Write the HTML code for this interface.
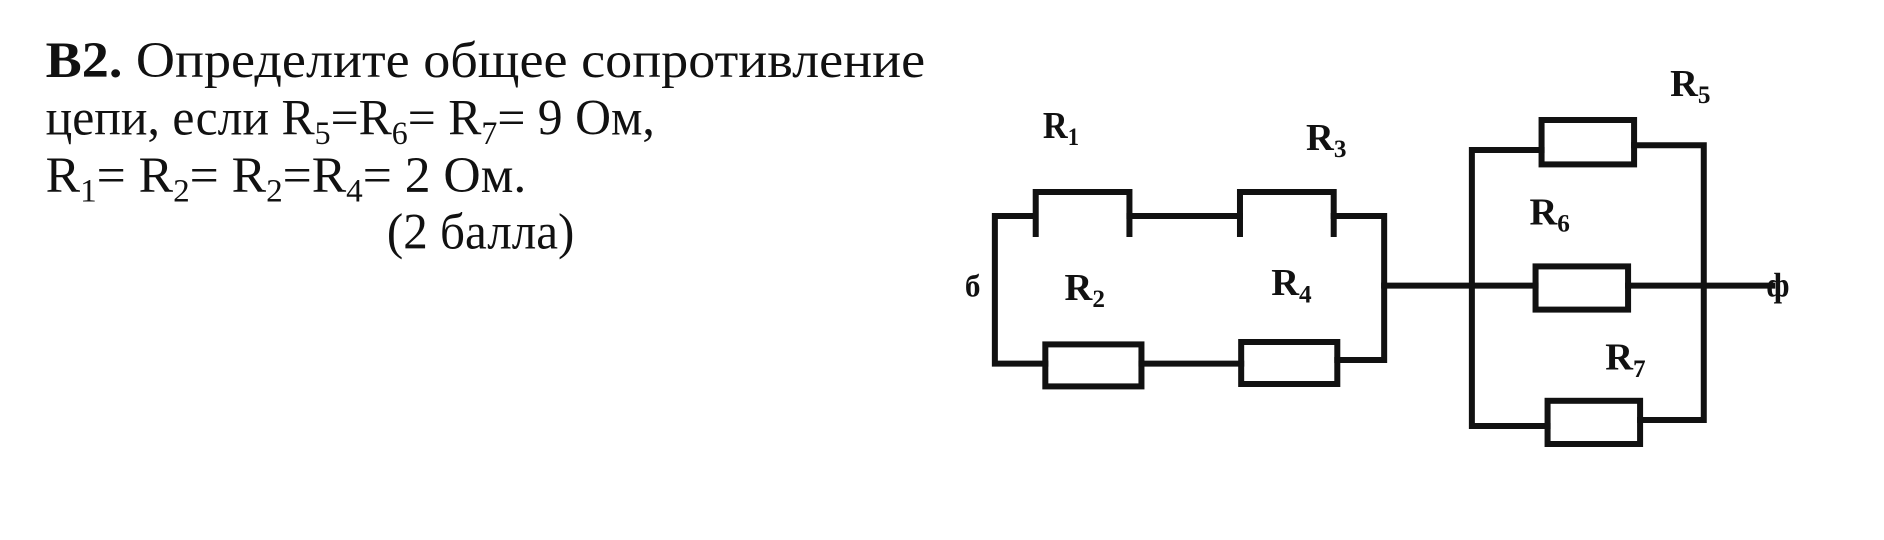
<!DOCTYPE html>
<html><head><meta charset="utf-8"><style>
html,body{margin:0;padding:0;background:#fff;}
svg{display:block;}
text{font-family:"Liberation Serif",serif;fill:#111;}
</style></head><body>
<svg width="1884" height="540" viewBox="0 0 1568 450" preserveAspectRatio="none">
<g font-size="42">
<text x="38" y="64" textLength="732" lengthAdjust="spacingAndGlyphs"><tspan font-weight="bold">B2.</tspan> Определите   общее   сопротивление</text>
<text x="38" y="112" textLength="507" lengthAdjust="spacingAndGlyphs">цепи, если R<tspan font-size="27" dy="8">5</tspan><tspan dy="-8">=R</tspan><tspan font-size="27" dy="8">6</tspan><tspan dy="-8">= R</tspan><tspan font-size="27" dy="8">7</tspan><tspan dy="-8">= 9 Ом,</tspan></text>
<text x="38" y="160" textLength="400" lengthAdjust="spacingAndGlyphs">R<tspan font-size="27" dy="8">1</tspan><tspan dy="-8">= R</tspan><tspan font-size="27" dy="8">2</tspan><tspan dy="-8">=  R</tspan><tspan font-size="27" dy="8">2</tspan><tspan dy="-8">=R</tspan><tspan font-size="27" dy="8">4</tspan><tspan dy="-8">= 2 Ом.</tspan></text>
<text x="322" y="207" textLength="156" lengthAdjust="spacingAndGlyphs">(2 балла)</text>
</g>
<g stroke="#111" stroke-width="5" fill="none" stroke-linecap="square">
<polyline points="860,180 828,180 828,303 870,303"/>
<polyline points="862,195 862,160 940,160 940,195"/>
<line x1="940" y1="180" x2="1032" y2="180"/>
<polyline points="1032,195 1032,160 1110,160 1110,195"/>
<polyline points="1110,180 1152,180 1152,300 1113,300"/>
<rect x="870" y="287" width="80" height="35"/>
<line x1="950" y1="303" x2="1033" y2="303"/>
<rect x="1033" y="285" width="80" height="35"/>
<line x1="1152" y1="238" x2="1278" y2="238"/>
<line x1="1355" y1="238" x2="1475" y2="238"/>
<polyline points="1283,125 1225,125 1225,355 1288,355"/>
<rect x="1283" y="100" width="77" height="37"/>
<polyline points="1360,121 1418,121 1418,350 1365,350"/>
<rect x="1278" y="222" width="77" height="36"/>
<rect x="1288" y="334" width="77" height="36"/>
</g>
<g font-size="32" font-weight="bold">
<text x="868" y="115" textLength="30" lengthAdjust="spacingAndGlyphs">R<tspan font-size="21" dy="6">1</tspan></text>
<text x="1087" y="125">R<tspan font-size="21" dy="6">3</tspan></text>
<text x="1390" y="80">R<tspan font-size="21" dy="6">5</tspan></text>
<text x="1273" y="187">R<tspan font-size="21" dy="6">6</tspan></text>
<text x="886" y="250">R<tspan font-size="21" dy="6">2</tspan></text>
<text x="1058" y="246">R<tspan font-size="21" dy="6">4</tspan></text>
<text x="1336" y="308">R<tspan font-size="21" dy="6">7</tspan></text>
<text x="803" y="247" font-size="26">б</text>
<text x="1470" y="247" font-size="28">ф</text>
</g>
</svg>
</body></html>
